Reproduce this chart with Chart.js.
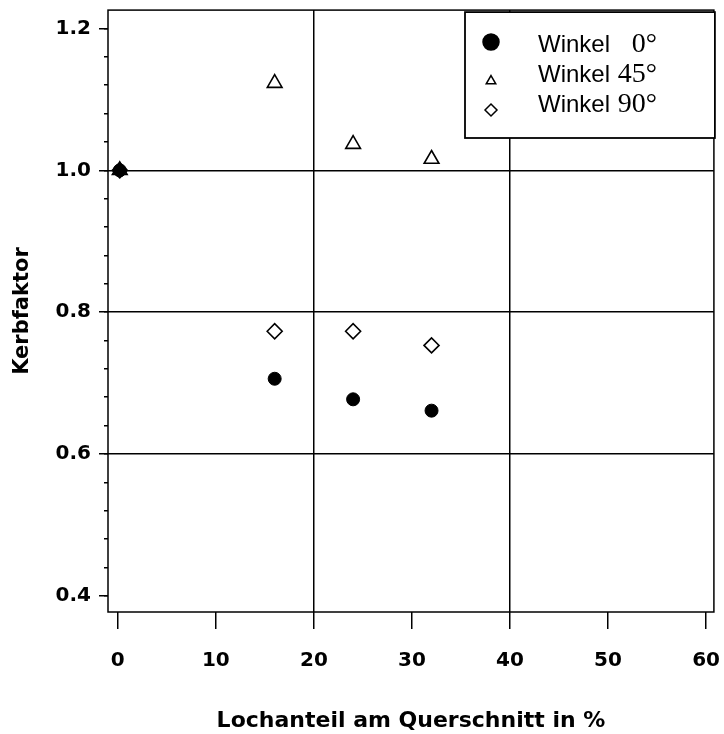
<!DOCTYPE html>
<html>
<head>
<meta charset="utf-8">
<script src="https://cdn.jsdelivr.net/npm/chart.js@4.4.1/dist/chart.umd.min.js"></script>
<style>
    html, body { margin: 0; padding: 0; background: #fff; }
    #wrap { width: 724px; height: 734px; }
</style>
</head>
<body>
<div id="wrap"><canvas id="kerbChart" width="724" height="734"></canvas></div>
<script>
// =============================
// DATA
// =============================

const lochanteil = [0.2, 16, 24, 32];          // x: Lochanteil in %
const winkel0    = [1.0, 0.706, 0.677, 0.661];
const winkel45   = [1.0, 1.123, 1.037, 1.016];
const winkel90   = [1.0, 0.773, 0.773, 0.753];

const seriesNames  = ["Winkel", "Winkel", "Winkel"];
const seriesAngles = ["0°", "45°", "90°"];

const xTicks  = [0, 10, 20, 30, 40, 50, 60];
const yTicks  = [0.4, 0.6, 0.8, 1.0, 1.2];
const xGridAt = [20, 40];
const yGridAt = [0.6, 0.8, 1.0];

const xTitle = "Lochanteil am Querschnitt in %";
const yTitle = "Kerbfaktor";


// =============================
// HELPERS
// =============================

const toPoints = ys => lochanteil.map((x, i) => ({ x: x, y: ys[i] }));

const tickFont = { family: "'DejaVu Sans', sans-serif", size: 20, weight: "bold" };

const Y_MIN = 0.377;
const Y_MAX = 1.226;

// no extra room for overflowing edge labels
const noPad = s => {
    s.paddingLeft = 0;
    s.paddingRight = 0;
    s.paddingTop = 0;
    s.paddingBottom = 0;
};


// =============================
// PLOT FRAME
// =============================

const framePlugin = {
    id: "frame",
    beforeDatasetsDraw(chart) {
        const { ctx, chartArea: a } = chart;
        ctx.save();
        ctx.strokeStyle = "#000";
        ctx.lineWidth = 1.5;
        ctx.strokeRect(a.left, a.top, a.right - a.left, a.bottom - a.top);
        ctx.restore();
    }
};


// =============================
// LEGEND BOX (mixed fonts)
// =============================

const legendPlugin = {
    id: "boxLegend",
    afterDraw(chart) {
        const ctx = chart.ctx;
        const a = chart.chartArea;
        const left = 465, top = a.top + 2, right = a.right + 1, bottom = 138;

        ctx.save();
        ctx.fillStyle = "#fff";
        ctx.fillRect(left, top, right - left, bottom - top);
        ctx.strokeStyle = "#000";
        ctx.lineWidth = 1.8;
        ctx.strokeRect(left, top, right - left, bottom - top);

        const markers = [
            { pointStyle: "circle",   radius: 8,   fill: "#000", dy: -10 },
            { pointStyle: "triangle", radius: 5.5, fill: "#fff", dy: -1 },
            { pointStyle: "rectRot",  radius: 6,   fill: "#fff", dy: -2 }
        ];

        chart.data.datasets.forEach((ds, i) => {
            const base = 52 + i * 30;
            const m = markers[i];

            ctx.fillStyle = m.fill;
            ctx.strokeStyle = "#000";
            ctx.lineWidth = 1.5;
            Chart.helpers.drawPoint(ctx, { pointStyle: m.pointStyle, radius: m.radius, rotation: 0, borderWidth: 1.5 }, 491, base + m.dy);

            ctx.fillStyle = "#000";
            ctx.textBaseline = "alphabetic";
            ctx.textAlign = "left";
            ctx.font = "24px 'Liberation Sans', Arial, sans-serif";
            ctx.fillText(seriesNames[i], 538, base);

            ctx.textAlign = "right";
            ctx.font = "28px 'Liberation Serif', 'Times New Roman', serif";
            ctx.fillText(seriesAngles[i], 657, base);
        });
        ctx.restore();
    }
};


// =============================
// CHART
// =============================

new Chart(document.getElementById("kerbChart"), {
    type: "scatter",
    data: {
        datasets: [
            {
                label: seriesNames[0] + " " + seriesAngles[0],
                data: toPoints(winkel0),
                pointStyle: "circle",
                pointRadius: 6.5,
                backgroundColor: "#000",
                borderColor: "#000",
                borderWidth: 1
            },
            {
                label: seriesNames[1] + " " + seriesAngles[1],
                data: toPoints(winkel45),
                pointStyle: "triangle",
                pointRadius: 8.5,
                backgroundColor: "rgba(0,0,0,0)",
                borderColor: "#000",
                borderWidth: 1.6
            },
            {
                label: seriesNames[2] + " " + seriesAngles[2],
                data: toPoints(winkel90),
                pointStyle: "rectRot",
                pointRadius: 7.5,
                backgroundColor: "rgba(0,0,0,0)",
                borderColor: "#000",
                borderWidth: 1.6
            }
        ]
    },
    options: {
        responsive: false,
        animation: false,
        layout: { padding: { top: 10, right: 9, left: 0, bottom: 0 } },
        plugins: {
            legend: { display: false },
            tooltip: { enabled: false }
        },
        scales: {
            x: {
                type: "linear",
                min: -1,
                max: 60.8,
                afterFit: s => { s.height = 122; noPad(s); },
                afterBuildTicks: s => { s.ticks = xTicks.map(v => ({ value: v })); },
                ticks: { font: tickFont, color: "#000", padding: 20, maxRotation: 0, autoSkip: false },
                grid: {
                    color: c => (c.tick && xGridAt.includes(c.tick.value)) ? "#000" : "rgba(0,0,0,0)",
                    tickColor: "#000",
                    lineWidth: 1.5,
                    tickLength: 17
                },
                border: { display: false },
                title: {
                    display: true, text: xTitle, color: "#000",
                    font: { family: "'DejaVu Sans', sans-serif", size: 22, weight: "bold" },
                    padding: { top: 0, bottom: 0 }
                }
            },
            y: {
                type: "linear",
                position: "left",
                weight: 1,
                min: Y_MIN,
                max: Y_MAX,
                afterFit: s => { s.width = 108; noPad(s); },
                afterBuildTicks: s => { s.ticks = yTicks.map(v => ({ value: v })); },
                ticks: { font: tickFont, color: "#000", padding: 8, callback: v => v.toFixed(1) },
                grid: {
                    color: c => (c.tick && yGridAt.some(g => Math.abs(g - c.tick.value) < 1e-6)) ? "#000" : "rgba(0,0,0,0)",
                    tickColor: "#000",
                    lineWidth: 1.5,
                    tickLength: 9
                },
                border: { display: false },
                title: {
                    display: true, text: yTitle, color: "#000",
                    font: { family: "'DejaVu Sans', sans-serif", size: 21, weight: "bold" },
                    padding: { top: 10, bottom: 0 }
                }
            },
            yMinor: {
                type: "linear",
                position: "left",
                weight: 0,
                min: Y_MIN,
                max: Y_MAX,
                afterFit: s => { s.width = 0; noPad(s); },
                ticks: { display: false, stepSize: 0.04, includeBounds: false },
                grid: { drawOnChartArea: false, tickColor: "#000", lineWidth: 1.5, tickLength: 4 },
                border: { display: false }
            }
        }
    },
    plugins: [framePlugin, legendPlugin]
});
</script>
</body>
</html>
